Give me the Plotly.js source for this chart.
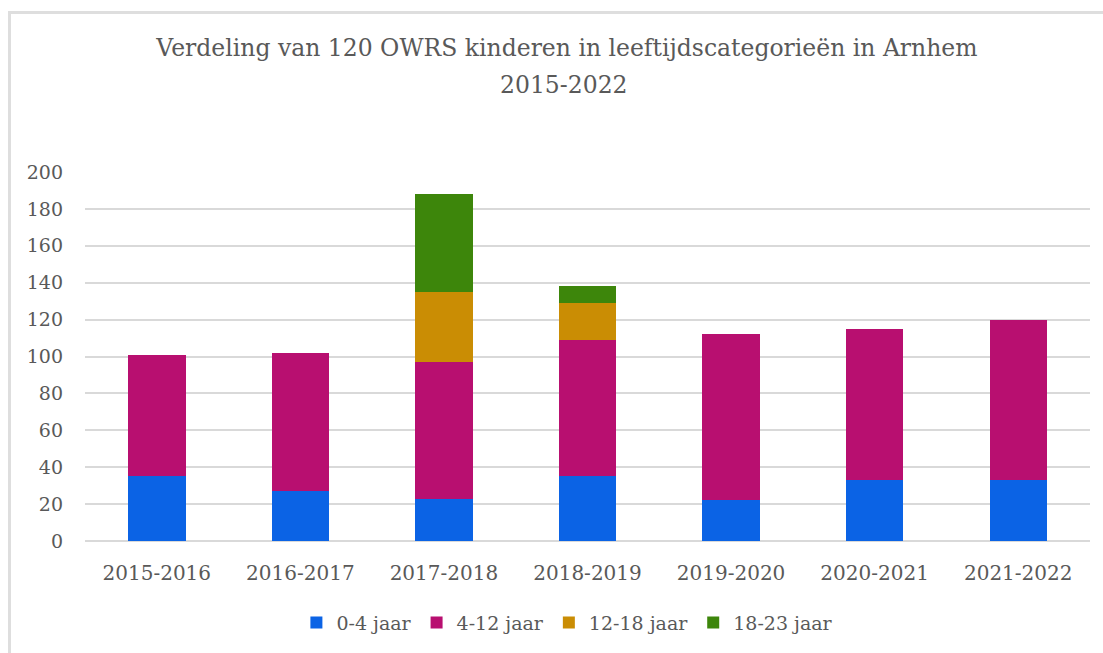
<!DOCTYPE html>
<html>
<head>
<meta charset="utf-8">
<script src="https://cdn.plot.ly/plotly-3.0.1.min.js"></script>
<style>
  html, body { margin: 0; padding: 0; background: #ffffff; }
  #wrap { position: relative; width: 1103px; height: 653px; overflow: hidden; }
  #frame { position: absolute; left: 8px; top: 11px; width: 1200px; height: 700px;
           border-top: 3px solid #dedede; border-left: 3px solid #dedede; pointer-events: none; }
  #chart { position: absolute; left: 0; top: 0; width: 1103px; height: 653px; }
</style>
</head>
<body>
<div id="wrap">
  <div id="chart"></div>
  <div id="frame"></div>
</div>
<script>
const categories = ['2015-2016', '2016-2017', '2017-2018', '2018-2019', '2019-2020', '2020-2021', '2021-2022'];
const seriesNames = ['0-4 jaar', '4-12 jaar', '12-18 jaar', '18-23 jaar'];
const age0_4   = [35, 27, 23, 35, 22, 33, 33];
const age4_12  = [66, 75, 74, 74, 90, 82, 87];
const age12_18 = [0, 0, 38, 20, 0, 0, 0];
const age18_23 = [0, 0, 53, 9, 0, 0, 0];
const yTicks = [0, 20, 40, 60, 80, 100, 120, 140, 160, 180, 200];
const titleLine1 = 'Verdeling van 120 OWRS kinderen in leeftijdscategorieën in Arnhem';
const titleLine2 = '2015-2022';

const colors = ['#0b63e5', '#b80f70', '#ca8d04', '#3d860b'];
const seriesValues = [age0_4, age4_12, age12_18, age18_23];

const traces = seriesValues.map((vals, i) => ({
  type: 'bar',
  name: seriesNames[i],
  x: categories,
  y: vals,
  marker: { color: colors[i], line: { width: 0 } },
  hoverinfo: 'x+y+name'
}));

const font = 'DejaVu Serif, Liberation Serif, serif';
const gray = '#595959';

const layout = {
  width: 1103,
  height: 653,
  barmode: 'stack',
  bargap: 0.6,
  paper_bgcolor: '#ffffff',
  plot_bgcolor: '#ffffff',
  margin: { l: 85, r: 13, t: 172, b: 110 },
  font: { family: font, color: gray, size: 19 },
  title: {
    text: titleLine1,
    font: { family: font, size: 23.5, color: gray },
    x: 0.514, xanchor: 'center',
    y: 1 - 48 / 653, yref: 'container', yanchor: 'middle'
  },
  annotations: [{
    text: titleLine2,
    xref: 'paper', yref: 'paper',
    x: (564 - 85) / 1005, xanchor: 'center',
    y: (543 - 85) / 371, yanchor: 'middle',
    showarrow: false,
    font: { family: font, size: 23.5, color: gray }
  }],
  xaxis: {
    type: 'category',
    showgrid: false,
    zeroline: false,
    showline: false,
    ticks: '',
    tickfont: { family: font, size: 20, color: gray },
    ticklabelstandoff: 18
  },
  yaxis: {
    range: [0, 200],
    tickvals: yTicks,
    ticktext: yTicks.map(String),
    showgrid: true,
    gridcolor: '#d9d9d9',
    gridwidth: 2,
    zeroline: true,
    zerolinecolor: '#d9d9d9',
    zerolinewidth: 2,
    showline: false,
    ticks: '',
    tickfont: { family: font, size: 19, color: gray },
    ticklabelstandoff: 21
  },
  showlegend: true,
  legend: {
    orientation: 'h',
    x: 0.48, xanchor: 'center',
    y: (543 - 625) / 371, yanchor: 'middle',
    font: { family: font, size: 19, color: gray },
    traceorder: 'normal',
    itemwidth: 30
  }
};

Plotly.newPlot('chart', traces, layout, { displayModeBar: false, staticPlot: true });
</script>
</body>
</html>
